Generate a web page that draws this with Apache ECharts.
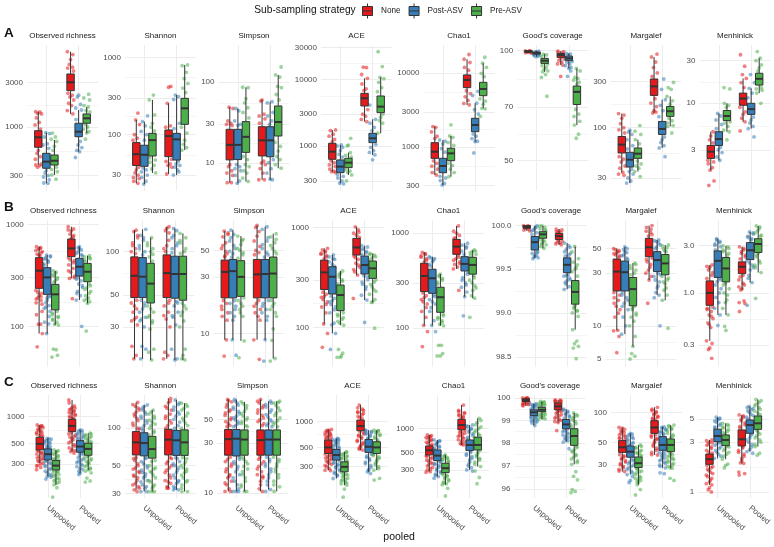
<!DOCTYPE html>
<html><head><meta charset="utf-8">
<style>html,body{margin:0;padding:0;background:#fff}#c{width:774px;height:547px}</style>
<script src="https://cdn.jsdelivr.net/npm/echarts@6/dist/echarts.min.js"></script>
</head><body><div id="c"></div>
<script>
const strategies = ['None','Post-ASV','Pre-ASV'];
const poolCategories = ['Unpooled','Pooled'];
const metrics = ['Observed richness','Shannon','Simpson','ACE','Chao1',"Good's coverage",'Margalef','Menhinick'];

// Box stats: [low whisker, q1, median, q3, high whisker] for None/Post/Pre Unpooled then None/Post/Pre Pooled
const A_richness_box=[[390,605,775,912,1460],[248,360,424,521,868],[305,390,434,500,725],[1380,2457,3023,3714,6450],[543,786,890,1096,1523],[860,1096,1240,1380,1640]];
const A_shannon_box=[[23.5,40,56,79,155],[23,39,55,73,147],[32,53,85,104,281],[31,52,96,115,254],[30,47,87,104,325],[63,136,219,295,796]];
const A_simpson_box=[[5.7,10.9,16.7,26,48.7],[5.6,11,16.7,26,47],[5.9,13.5,21,32.4,86],[6.2,12.2,19,28,60],[6.2,11.9,19,28,57],[8.6,21.5,32,50.5,122]];
const A_ace_box=[[411,631,822,1096,1740],[276,398,490,617,1035],[368,473,562,653,794],[2316,3980,5190,6160,10350],[733,1122,1303,1550,2512],[1550,3160,3890,5620,10700]];
const A_chao_box=[[417,702,864,1145,1890],[305,448,552,702,1245],[396,652,820,959,1410],[3720,6390,8130,9500,15500],[1180,1615,1990,2450,3920],[3350,4970,6130,7540,13700]];
const A_good_box=[[98.5,99,99.6,100,100],[96.3,97.9,98.5,99.2,99.8],[87.5,92.3,93.9,95.3,97.9],[91.3,95.9,97.3,98.3,99.8],[89.4,93.9,95.3,96.7,98.3],[62.5,71.2,77.1,80,89.4]];
const A_margalef_box=[[34.4,54.6,66.6,81,140],[26.6,39,46.5,55.5,94],[35,48,53.7,61.5,75],[142,216,268,320,541],[61.5,85,97,116,195],[103,131,148,166,211]];
const A_menhinick_box=[[1.78,2.41,2.87,3.37,4.8],[2.3,3.37,3.97,4.8,7.7],[4.8,6.4,7.2,8.3,10],[6.2,9.5,11.3,13,19],[5.2,7.5,8.6,10,14.7],[13,16,18.8,21.7,32]];
const B_richness_box=[[85,236,351,471,604],[85,206,302,376,500],[103,145,206,258,349],[295,482,580,718,947],[181,311,384,464,604],[168,274,343,414,493]];
const B_shannon_box=[[18,48,68,92,141],[18,48,67,91,143],[17.7,44,60,83,125],[18,48,71,95,149],[17.7,47.5,70,93,145],[17.7,46,70,93,134]];
const B_simpson_box=[[8.9,20,33,41.5,72.6],[8.9,20,33.5,42,74],[8.7,20.6,30,41,66],[8.9,20,31.5,42,81],[8.9,20,31.7,42,79],[6.2,20,32,44,69]];
const B_ace_box=[[108,240,356,473,620],[87,216,322,406,532],[105,147,211,266,368],[335,532,634,781,1020],[188,343,422,519,660],[178,310,391,463,552]];
const B_chao_box=[[107,243,355,483,630],[107,233,336,418,567],[106,147,212,270,372],[421,600,723,862,1195],[215,401,476,567,785],[207,371,464,558,668]];
const B_good_box=[[99.94,99.97,99.985,100,100],[99.63,99.72,99.81,99.875,100],[99.74,99.855,99.9,99.93,100],[99.78,99.84,99.88,99.91,99.96],[99.27,99.46,99.55,99.63,99.8],[98.81,99.1,99.24,99.37,99.76]];
const B_margalef_box=[[9.1,20.7,31,40.3,50],[8.4,20.7,30.6,38.6,52],[6.5,15.2,21.5,27.4,37],[26,42.3,51.5,62,81],[19,31,39.4,47,60],[17,29,36.8,44.3,54]];
const B_menhinick_box=[[0.33,0.75,1,1.32,1.91],[0.6,1.43,2.1,2.64,3.5],[0.6,1.29,1.76,2.27,2.97],[1.07,1.56,1.83,2.05,2.9],[1.27,2.16,2.68,3.2,4.1],[1.6,2.55,3.1,3.5,4.7]];
const C_richness_box=[[306,428,498,589,804],[218,332,384,439,574],[177,258,288,327,428],[410,679,784,927,1510],[238,404,466,541,708],[258,374,439,506,652]];
const C_shannon_box=[[32,61,77,94,161],[31,60,76,92,154],[31,57.5,68,86,140],[33,61,81,98,174],[32,60.5,80,96,169],[31,60.5,77,97,159]];
const C_simpson_box=[[10.4,23,32.7,40.4,78],[10.4,22.6,33,40.4,78],[10.4,23,32.4,40,74],[10.4,23,32,40,78],[10.8,23,32.4,40,75],[10.4,23,32.4,40,75]];
const C_ace_box=[[274,428,503,612,814],[219,358,410,477,640],[183,262,299,342,448],[468,786,890,1046,1562],[262,440,512,623,800],[274,428,503,585,800]];
const C_chao_box=[[285,464,532,603,832],[247,393,455,537,719],[194,277,315,364,464],[621,969,1113,1312,1990],[300,527,621,719,1113],[330,537,621,777,1352]];
const C_good_box=[[99.65,99.84,99.9,99.96,100],[98.77,99.21,99.36,99.47,99.74],[99.04,99.39,99.47,99.58,99.84],[98.9,99.47,99.62,99.77,99.91],[98.04,98.63,98.82,99.04,99.5],[97.07,97.9,98.31,98.63,99.33]];
const C_margalef_box=[[25.7,40,45,52.5,71],[24,35.8,40.7,46.4,62],[19,28.2,31.2,36,47.5],[37.7,62,71,83,113],[27.8,42,47.5,57.5,72],[27.8,40.7,47.5,54.5,75]];
const C_menhinick_box=[[1.17,1.84,2.06,2.31,3.15],[2.1,3.04,3.44,4,5.2],[2.06,2.78,3.15,3.52,4.55],[1.88,2.76,3.2,3.93,5.47],[2.44,3.65,4.38,4.9,6.6],[2.72,3.98,4.55,5.35,7.7]];

// Individual sample values, same box order
const A_richness_pts=[[1460,1450,1400,1380,1250,1120,1050,950,560,520,480,450,400,390,385,370],[868,850,780,660,640,590,340,320,300,290,270,250,248],[860,780,740,700,620,560,370,350,330,305,275],[6450,6000,5300,4700,4400,4300,4000,2300,2200,2100,1950,1800,1700,1500,1380],[2200,2100,1750,1600,1523,1200,700,640,600,560,543,470],[2250,2050,1950,1700,1640,1500,1450,1060,1000,950,890,860,740]];
const A_shannon_pts=[[190,155,135,100,90,85,38,35,32,30,28,27,25,23.5],[175,147,130,110,100,85,37,35,33,30,28,25,23],[325,281,180,140,125,112,50,47,44,40,36,32],[420,410,254,130,125,48,45,42,40,38,31],[325,310,285,140,120,45,42,40,38,35,30,33],[1480,796,780,640,530,460,400,350,125,105,85,75,68,63]];
const A_simpson_pts=[[48.7,47,33,31,30,29,9.5,9,8,7.5,7,5.7,5.7],[47,44,33,30,29,9.5,9,8.5,8,7,6,5.6],[86,85,62,55,48,42,36,12,11,9.5,9,8,7.5,6.5,5.9],[60,58,40,38,35,31,10.5,10,9.5,8.5,7.5,6.2,6.2],[57,55,42,38,33,30,11,10,8.5,7.5,6.2,6.3],[153,122,115,88,85,70,60,18,16,14,12,11,9.5,8.6]];
const A_ace_pts=[[1740,1700,1500,1400,1250,1150,600,560,520,490,450,420,411,400],[1035,1000,950,850,750,680,370,350,330,300,276,270],[1300,1030,1000,794,720,680,440,420,400,368,300],[15200,15000,11800,10350,8500,7200,6800,3500,3000,2800,2500,2316],[4100,2512,2200,1900,1700,1050,950,850,800,733,620],[26000,15500,10700,10200,9000,7500,6500,3000,2700,2400,2200,1550]];
const A_chao_pts=[[1890,1850,1600,1400,1300,650,600,550,500,450,417],[1245,1200,1100,950,850,400,380,350,320,305],[2000,1410,1350,1150,1050,600,560,500,450,396],[18000,15500,14000,12000,11000,5800,5300,4800,4300,3900,3720],[5700,5000,3920,3200,2800,1500,1400,1300,1200,1180,830],[16500,13700,12000,10000,9000,4500,4200,3800,3350,3300,2600]];
const A_good_pts=[[100,99.9,99.8,99.5,99.2,99,98.8,98.5],[99.8,99.5,99.2,98,97.8,97.4,97,96.6,96.3],[97.9,97.5,96.5,92,91,90,89,88,87.5,86,84.5,75],[99.8,99.5,99,98.5,95.5,95,94,93,92,91.3,85],[98.3,97.9,97.5,93.5,93,92,91,90,89.4,85,88],[89.4,88,84.5,84,83,82,81,69,67,66,64,62.5,59,57.5,41]];
const A_margalef_pts=[[140,135,125,110,100,95,88,50,47,44,40,38,34.4,33,32],[94,90,85,75,65,60,37,35,33,30,28,26.6],[105,92,85,75,68,45,42,40,38,35,31],[580,541,480,420,370,340,200,180,165,150,142,145],[320,250,195,170,150,130,80,75,70,65,61.5,50],[295,260,250,211,190,175,125,118,112,105,103,88]];
const A_menhinick_pts=[[4.8,4.3,3.9,3.6,2.3,2.2,2.1,1.9,1.78,1.35,1.2],[7.7,7.2,6.5,5.8,5.2,3.2,3,2.8,2.5,2.3],[15,14.5,10,9.5,9,6.2,6,5.5,5,4.8,3.9],[35,26,21,19,17,15,9,8,7.5,6.8,6.2,4.9],[21,17,14.7,13,11.5,7,6.5,6,5.5,5.2,4.2],[38,32,30,27,25,23,15,14.5,14,13,10]];
const B_richness_pts=[[604,590,570,540,510,490,225,210,200,190,180,170,140,130,105,105,85,63,580,555,525,500,215,195,185,165],[500,490,470,440,410,200,190,170,160,150,140,110,106,85,480,455,425,395,195,180,155,125],[349,340,320,300,280,270,140,130,125,118,110,105,103,60,59,50,52,330,310,290,135,122,115],[947,900,860,800,750,470,440,400,370,340,310,295,187,880,780,730,450,420,350,300],[604,590,560,520,490,300,280,260,240,220,200,181,100,575,540,505,290,250,210],[493,480,460,430,260,240,220,200,190,180,175,168,90,470,445,250,230,210,185]];
const B_shannon_pts=[[141,138,125,115,105,100,46,42,38,35,33,31,22,19,18,130,110,97,44,40,34],[143,130,120,110,100,95,46,42,38,35,33,30,22,21,18,125,105,44,40,34],[125,115,105,100,92,86,42,38,35,32,29,21,20,17.7,110,96,40,36,33],[149,145,140,120,105,46,42,38,34,30,20,19,18,135,110,100,44,36],[145,140,125,115,105,45,42,38,35,31,21,18,17.7,130,110,98,44,36],[134,125,115,100,44,40,36,33,30,21,19,18,17.7,120,105,97,42,38]];
const B_simpson_pts=[[72.6,70,65,58,52,47,44,19,18,16,15,14,8.9,6.5,68,55,49,17,13,45],[74,68,60,52,47,44,19,18,17,15,14,8.9,6.6,64,55,49,16,13],[66,62,56,50,46,43,20,19,17,15,8.7,6.3,60,52,48,18,16,14],[81,78,72,60,54,46,19,18,16,15,14,8.9,6.1,66,50,48,17,13],[79,75,64,56,48,44,19,18,16,15,14,8.9,5.9,60,52,46,17,13],[69,65,58,52,47,19,18,16,15,11,8.8,6.2,5.9,62,55,49,17,14]];
const B_ace_pts=[[620,600,570,540,510,490,225,215,200,180,160,140,108,87,63,580,555,525,205,190,170],[532,510,480,430,205,195,180,160,140,110,106,87,60,490,455,410,185,170,150],[368,350,320,290,275,140,130,120,110,105,60,52,50,55,50,340,300,135,125,115],[1020,950,880,800,520,480,440,400,360,335,195,900,840,500,420,380],[660,640,600,560,330,300,270,240,210,188,112,620,580,540,320,285,255],[552,530,500,300,270,240,215,190,180,178,98,540,510,480,285,255,230]];
const B_chao_pts=[[630,610,580,540,500,235,220,200,180,150,130,107,92,64,600,560,520,210,190,165],[567,540,500,450,225,200,180,150,120,107,92,550,520,470,215,190,165],[372,350,320,290,140,130,120,110,106,66,66,51,54,51,360,335,305,135,125,115],[1195,1050,950,880,590,540,500,470,440,421,250,1000,900,560,520,480],[785,750,700,600,390,340,300,270,240,215,135,720,650,370,320,285],[668,640,600,580,360,320,280,250,220,207,130,650,620,340,300,265]];
const B_good_pts=[[100,100,99.99,99.98,99.97,99.96,99.95,99.94],[100,99.97,99.95,99.92,99.9,99.7,99.68,99.66,99.64,99.63,99.62,99.98,99.94,99.69,99.65],[100,99.98,99.96,99.94,99.84,99.82,99.8,99.78,99.76,99.74,99.99,99.95,99.83,99.79],[99.96,99.95,99.93,99.92,99.83,99.82,99.81,99.8,99.79,99.78,99.94,99.92],[99.8,99.77,99.73,99.68,99.65,99.44,99.42,99.4,99.37,99.33,99.3,99.27,99.75,99.7,99.66,99.43,99.38,99.35],[99.76,99.62,99.58,99.52,99.47,99.42,99.08,99.05,99.03,99,98.96,98.81,98.68,98.65,98.62,98.6,98.48,99.7,99.55,99.5,99.07,99.02]];
const B_margalef_pts=[[50,48,46,44,42,20,19,18,17,15,14,12,9.1,9,8,5.7,49,47,45,43,16,13],[52,49,46,43,40,20,18,16,14,12,10,8.4,50,47,44,41,19,17,15],[37,35,32,29,15,14,13,12,11,10,8,6.5,5.6,5.3,5,36,33,30,14.5,12.5],[81,78,70,65,41,38,34,30,28,26,16,75,72,67,40,36,32],[60,58,54,50,30,28,25,22,20,19,18,10,59,56,52,29,26,23],[54,50,47,28,26,24,21,19,17,9.5,53,51,48,27,25,22]];
const B_menhinick_pts=[[1.91,1.8,1.7,1.5,1.4,0.72,0.68,0.65,0.6,0.55,0.5,0.45,0.33,0.31,0.28,0.27,0.22,1.85,1.6,0.7,0.58,0.48],[3.5,3.3,3.1,2.9,2.7,1.4,1.3,1.1,0.9,0.8,0.7,0.6,0.47,3.4,3.2,3,1.35,1.2,1],[2.97,2.8,2.6,2.4,1.25,1.1,1,0.85,0.7,0.6,0.42,0.46,2.9,2.7,2.5,1.2,0.95,0.8],[2.9,2.7,2.5,2.3,2.2,1.5,1.35,1.2,1.1,1.07,0.83,0.8,0.78,0.65,2.8,2.6,2.4,1.45,1.25,1.15],[4.1,3.9,3.6,3.4,2.1,1.9,1.7,1.5,1.27,0.75,4,3.7,3.5,2,1.8,1.4],[4.7,4.4,4,3.7,2.5,2.3,2,1.8,1.6,0.88,4.6,4.2,3.8,2.4,2.1,1.9]];
const C_richness_pts=[[804,790,770,750,720,690,660,630,610,415,400,385,370,350,335,320,306,290,275,260,780,740,700,670,640,600,420,395,360,345,325,300,285],[574,560,540,520,500,470,450,325,310,290,270,250,230,218,215,205,565,530,510,480,460,445,320,300,280,260,240,225],[428,410,390,370,350,335,250,240,230,220,210,200,190,177,165,130,420,400,380,360,340,330,255,245,225,205,195,185],[1510,1300,1250,1200,1150,1100,1050,1000,950,660,620,590,550,510,470,430,410,395,1400,1230,1180,1130,1080,1030,970,940,640,600,570,530,490,450,420],[708,690,660,630,590,560,395,370,340,320,300,280,260,238,230,700,650,610,580,550,400,380,350,330,310,290,270,250],[652,630,600,570,530,365,340,320,300,280,270,258,210,195,190,640,610,580,550,520,510,370,350,330,310,290,265,250,240]];
const C_shannon_pts=[[161,150,140,130,120,110,100,58,55,50,47,45,42,40,36,33,32,31,155,145,135,125,115,105,98,57,52,48,44,41,38,35,34],[154,145,135,125,115,105,96,58,54,50,46,43,40,38,35,33,31,31,150,140,130,120,110,100,57,52,48,44,41,37,34],[140,130,120,112,105,95,88,55,50,47,44,40,37,34,31,31,31,135,125,116,108,100,92,54,48,45,42,38,35,33],[174,160,145,130,120,110,100,58,54,50,46,42,38,36,33,33,165,150,140,125,115,105,57,52,48,44,40,37,34],[169,155,140,130,118,105,58,54,50,46,42,38,36,33,32,32,160,148,135,125,112,100,57,52,48,44,40,37,34],[159,150,140,125,115,105,58,54,50,47,44,40,37,33,31,31,155,145,132,120,110,100,57,52,48,45,42,38,35]];
const C_simpson_pts=[[78,74,66,60,55,50,46,43,22,20,18,16,15,14,13,12,11,10.4,10.4,76,70,62,58,52,48,44,21,19,17,14.5,12.5],[78,72,66,60,54,50,46,43,22,20,18,16,15,13,12,10.4,10.4,10.4,75,69,63,57,52,48,44,21,19,17,14,11],[74,68,60,54,50,46,43,22,20,18,17,15,13,11.5,10.4,10.4,71,64,57,52,48,44,21,19,16,14,12],[78,72,65,58,52,48,44,22,20,18,16,15,14,12,11,10.4,75,68,62,55,50,46,21,19,17,14.5,13],[75,70,62,56,50,46,43,22,20,18,16,14,12,10.8,10.4,72,66,59,53,48,44,21,19,17,15,13],[75,72,65,58,52,47,43,22,20,18,16,15,13,11.5,10.4,73,68,61,55,49,45,21,19,17,14,12]];
const C_ace_pts=[[814,790,770,740,710,680,650,620,420,400,380,360,340,320,300,285,274,270,800,760,725,695,665,635,410,390,370,350,330,310],[640,620,600,570,540,510,480,350,330,310,290,270,250,235,219,630,610,585,555,525,495,340,320,300,280,260,240],[448,430,410,390,370,350,255,245,235,220,210,200,190,183,165,133,440,420,400,380,360,250,240,228,215,205,195],[1562,1400,1300,1250,1150,1080,770,720,680,640,590,550,510,480,468,1450,1350,1280,1200,1120,750,700,660,610,570,530,495],[800,770,740,700,650,430,400,370,340,310,280,262,250,785,755,720,680,630,415,385,355,325,295,270],[800,780,740,690,640,590,420,390,360,330,300,274,220,210,790,760,715,665,615,405,375,345,315,285]];
const C_chao_pts=[[832,800,770,730,690,650,610,455,430,400,370,350,320,300,285,280,815,785,750,710,670,630,445,415,385,360,335,310],[719,690,660,620,580,545,385,360,340,310,285,265,247,235,705,675,640,600,560,375,350,325,295,275,255],[464,440,420,400,380,270,255,240,225,210,200,194,175,140,452,430,410,390,262,248,232,218,205],[1990,1650,1600,1500,1420,1350,950,900,850,800,750,700,650,621,1700,1550,1460,1380,925,875,825,775,725,675,635],[1113,1050,980,900,820,740,520,480,440,400,350,320,300,290,1080,1010,940,860,780,500,460,420,375,335],[1352,1200,1050,950,850,780,530,480,440,400,350,330,290,240,200,1270,1120,1000,900,815,505,460,420,375]];
const C_good_pts=[[100,100,99.98,99.96,99.83,99.8,99.75,99.7,99.65,99.99,99.97,99.82,99.78,99.72,99.68],[99.74,99.7,99.65,99.58,99.5,99.2,99.15,99.1,99,98.95,98.88,98.77,99.72,99.68,99.62,99.55,99.18,99.12,99.05,98.98,98.9],[99.84,99.8,99.75,99.7,99.62,99.38,99.3,99.25,99.18,99.1,99.04,99.82,99.78,99.72,99.66,99.6,99.35,99.28,99.22,99.14,99.07],[99.91,99.88,99.85,99.8,99.45,99.4,99.3,99.2,99.1,99,98.9,98.55,99.9,99.86,99.82,99.78,99.42,99.35,99.25,99.15,99.05,98.95],[99.5,99.4,99.3,99.2,99.1,98.6,98.5,98.4,98.3,98.2,98.1,98.04,97.75,99.45,99.35,99.25,99.15,98.55,98.45,98.35,98.25,98.15],[99.33,99.2,99.1,98.95,98.8,97.85,97.7,97.6,97.45,97.3,97.15,97.07,96.75,96.55,96.4,95.98,95.9,95.85,99.25,99.15,99,98.85,98.7,97.8,97.65,97.5,97.38,97.22]];
const C_margalef_pts=[[71,68,65,62,59,56,54,38,36,34,32,30,28,26,25.7,70,66,63,60,57,55,37,35,33,31,29,27],[62,60,57,54,50,48,34,32,30,28,26,24,23,21,20,61,58,55,52,49,47,33,31,29,27,25],[47.5,45,42,40,38,27,26,25,23,22,21,20,19,17,15,46,44,41,39,37,27.5,25.5,24,22.5,21.5,20.5],[113,105,100,95,90,86,60,57,54,50,46,42,38,37.7,108,102,97,92,88,85,59,55,52,48,44,40],[72,70,67,63,60,40,38,36,34,32,30,28,25,24.5,71,68,65,62,59,41,39,37,35,33,31,29],[75,72,68,62,58,39,37,35,33,31,29,27.8,22,21,74,70,66,60,56,40,38,36,34,32,30,28]];
const C_menhinick_pts=[[3.15,3,2.9,2.7,2.5,2.35,1.8,1.7,1.6,1.5,1.4,1.3,1.2,1.17,1.1,1.05,1,3.1,2.95,2.8,2.6,2.4,1.75,1.65,1.55,1.45,1.35,1.25],[5.2,5,4.8,4.5,4.2,3,2.9,2.7,2.5,2.3,2.1,5.1,4.9,4.65,4.35,4.1,2.95,2.8,2.6,2.4,2.2],[4.55,4.3,4.1,3.8,3.6,2.7,2.5,2.3,2.06,1.85,1.8,1.7,4.45,4.2,3.95,3.7,2.75,2.6,2.4,2.2],[5.47,5.2,4.8,4.4,4.1,2.7,2.5,2.3,2.1,1.9,1.88,1.55,1.5,1.45,5.35,5,4.6,4.25,2.65,2.4,2.2,2],[6.6,6.3,6,5.6,5.2,3.6,3.3,3,2.7,2.44,2.35,6.45,6.15,5.8,5.4,5,3.5,3.15,2.85,2.55],[7.7,7.2,6.7,6.2,5.7,3.9,3.6,3.3,3,2.72,2.35,2.25,7.5,6.95,6.45,5.95,5.5,3.75,3.45,3.15,2.85]];

// Tick labels
const A_ticks=[['300','1000','3000'],['30','100','300','1000'],['10','30','100'],['300','1000','3000','10000','30000'],['300','1000','3000','10000'],['50','70','100'],['30','100','300'],['3','10','30']];
const B_ticks=[['100','300','1000'],['30','50','100'],['10','30','50'],['100','300','1000'],['100','300','1000'],['98.5','99.0','99.5','100.0'],['5','10','30','50'],['0.3','1.0','3.0']];
const C_ticks=[['300','500','1000'],['30','50','100'],['10','30','50'],['300','500','1000'],['300','500','1000'],['96','97','98','99','100'],['30','50','100'],['1','3','5']];
// Axis ranges
const A_min=[205,18.7,4.5,211,253,41.2,22,1.04], A_max=[7610,1442,286,32700,24200,103.7,721,45];
const B_min=[40,15.8,5.26,40,39,98.386,4.23,0.18], B_max=[1102,166,90,1195,1380,100.065,91,5.4];
const C_min=[127,27.5,9,130,132,95.62,14,0.875], C_max=[1713,185,86,2044,2670,100.13,150,8.5];

const A_boxes=[A_richness_box,A_shannon_box,A_simpson_box,A_ace_box,A_chao_box,A_good_box,A_margalef_box,A_menhinick_box];
const B_boxes=[B_richness_box,B_shannon_box,B_simpson_box,B_ace_box,B_chao_box,B_good_box,B_margalef_box,B_menhinick_box];
const C_boxes=[C_richness_box,C_shannon_box,C_simpson_box,C_ace_box,C_chao_box,C_good_box,C_margalef_box,C_menhinick_box];
const A_pts=[A_richness_pts,A_shannon_pts,A_simpson_pts,A_ace_pts,A_chao_pts,A_good_pts,A_margalef_pts,A_menhinick_pts];
const B_pts=[B_richness_pts,B_shannon_pts,B_simpson_pts,B_ace_pts,B_chao_pts,B_good_pts,B_margalef_pts,B_menhinick_pts];
const C_pts=[C_richness_pts,C_shannon_pts,C_simpson_pts,C_ace_pts,C_chao_pts,C_good_pts,C_margalef_pts,C_menhinick_pts];

// Layout and style
const colors=['#E41A1C','#377EB8','#4DAF4A'];
const jitterOffsets=[-0.08,0.05,-0.02,0.1,-0.06,0.03,-0.1,0.07,0,-0.04,0.06,-0.09,0.09];
const dodge=[-0.25,0,0.25];
const rows=[
 {letter:'A',letterY:33,titleY:36.7,top:45,bottom:191,centers:[62.5,160.5,254,356.5,459,552.7,646,735],boxes:A_boxes,pts:A_pts,ticks:A_ticks,min:A_min,max:A_max},
 {letter:'B',letterY:207.7,titleY:211.7,top:220,bottom:367,centers:[63.3,158.7,249,348.5,448.5,551,641,734],boxes:B_boxes,pts:B_pts,ticks:B_ticks,min:B_min,max:B_max},
 {letter:'C',letterY:382.7,titleY:386.7,top:395,bottom:498,centers:[64,160.3,252.5,352.5,453.5,550,646.5,733.7],boxes:C_boxes,pts:C_pts,ticks:C_ticks,min:C_min,max:C_max}
];
const FONT='"Liberation Sans",Arial,sans-serif';
const panelW=71;

function renderBox(params,api){
  const x=api.value(0), hw=0.115;
  const lo=api.coord([x,api.value(1)]), q1=api.coord([x,api.value(2)]), md=api.coord([x,api.value(3)]),
        q3=api.coord([x,api.value(4)]), hi=api.coord([x,api.value(5)]);
  const l=api.coord([x-hw,api.value(3)])[0], r=api.coord([x+hw,api.value(3)])[0];
  const stroke={stroke:'#333333',lineWidth:1,fill:null};
  return {type:'group',children:[
    {type:'line',shape:{x1:lo[0],y1:lo[1],x2:q1[0],y2:q1[1]},style:stroke},
    {type:'line',shape:{x1:q3[0],y1:q3[1],x2:hi[0],y2:hi[1]},style:stroke},
    {type:'rect',shape:{x:l,y:q3[1],width:r-l,height:q1[1]-q3[1]},style:{stroke:'#333333',lineWidth:1,fill:api.visual('color')}},
    {type:'line',shape:{x1:l,y1:md[1],x2:r,y2:md[1]},style:{stroke:'#333333',lineWidth:2}}
  ]};
}

const grids=[],xAxes=[],yAxes=[],series=[],titles=[],texts=[];
rows.forEach(function(row,ri){
  texts.push({type:'text',left:4,top:row.letterY-7,style:{text:row.letter,font:'bold 13.5px '+FONT,fill:'#111'}});
  metrics.forEach(function(m,mi){
    const g=grids.length;
    const c=row.centers[mi];
    grids.push({left:c-panelW/2,width:panelW,top:row.top,height:row.bottom-row.top,containLabel:false});
    titles.push({text:m,left:c,top:row.titleY-5,textAlign:'center',padding:0,textStyle:{fontFamily:FONT,fontSize:8,fontWeight:'normal',color:'#1A1A1A'}});
    const isBottom=ri===2;
    xAxes.push({gridIndex:g,type:'value',min:0.4,max:2.6,
      axisLine:{show:false},
      axisTick:{show:false,customValues:[1,2]},
      splitLine:{show:true,lineStyle:{color:'#ECECEC',width:1}},
      axisLabel:{show:isBottom,customValues:[1,2],rotate:-40,margin:9,align:'left',verticalAlign:'middle',fontFamily:FONT,fontSize:8,color:'#4D4D4D',
        formatter:function(v){return poolCategories[Math.round(v)-1];}}
    });
    const tickLabels=row.ticks[mi], tickVals=tickLabels.map(Number);
    const minorVals=[];
    for(let i=0;i<tickVals.length-1;i++)minorVals.push(Math.sqrt(tickVals[i]*tickVals[i+1]));
    yAxes.push({gridIndex:g,type:'log',logBase:10,min:row.min[mi],max:row.max[mi],
      axisLine:{show:false},
      axisTick:{show:false,customValues:tickVals},
      splitLine:{show:true,lineStyle:{color:'#ECECEC',width:1}},
      axisLabel:{customValues:tickVals,margin:4,fontFamily:FONT,fontSize:8,color:'#4D4D4D',
        formatter:function(v){let b=0,d=Infinity;tickVals.forEach(function(t,i){const e=Math.abs(t-v);if(e<d){d=e;b=i;}});return tickLabels[b];}}
    });
    yAxes.push({gridIndex:g,type:'log',logBase:10,min:row.min[mi],max:row.max[mi],position:'left',
      axisLine:{show:false},
      axisTick:{show:false,customValues:minorVals},
      splitLine:{show:true,lineStyle:{color:'#F5F5F5',width:1}},
      axisLabel:{show:false,customValues:minorVals}
    });
    const yIdx=yAxes.length-2;
    strategies.forEach(function(s,si){
      const pointData=[],boxData=[];
      [0,1].forEach(function(p){
        const idx=p*3+si, cx=p+1+dodge[si];
        row.pts[mi][idx].forEach(function(v,k){pointData.push([cx+jitterOffsets[(k+idx*2+mi)%jitterOffsets.length],v]);});
        boxData.push([cx].concat(row.boxes[mi][idx]));
      });
      series.push({name:s,type:'scatter',xAxisIndex:g,yAxisIndex:yIdx,symbolSize:3.8,silent:true,z:3,
        itemStyle:{color:colors[si],opacity:0.55},data:pointData});
      series.push({name:s,type:'custom',xAxisIndex:g,yAxisIndex:yIdx,z:4,silent:true,renderItem:renderBox,
        itemStyle:{color:colors[si]},encode:{x:0,y:[1,2,3,4,5]},data:boxData});
    });
  });
});
texts.push({type:'text',left:254.3,top:5,style:{text:'Sub-sampling strategy',font:'10.2px '+FONT,fill:'#111'}});
texts.push({type:'text',left:383.3,top:532,style:{text:'pooled',font:'10.5px '+FONT,fill:'#111'}});

const keyIcon='path://M5 0V3M0 3H10V12H0ZM0 7.5H10M5 12V15';
const chart=echarts.init(document.getElementById('c'),null,{renderer:'canvas'});
chart.setOption({
  animation:false,backgroundColor:'#fff',
  title:titles,grid:grids,xAxis:xAxes,yAxis:yAxes,series:series,graphic:texts,
  legend:{left:362,top:3,itemWidth:11,itemHeight:15,itemGap:8,selectedMode:false,padding:0,
    textStyle:{fontFamily:FONT,fontSize:8.2,color:'#1A1A1A',padding:[0,0,0,3]},
    data:strategies.map(function(s,i){return {name:s,icon:keyIcon,itemStyle:{color:colors[i],borderColor:'#333333',borderWidth:1,opacity:1}};})
  }
});
</script></body></html>
